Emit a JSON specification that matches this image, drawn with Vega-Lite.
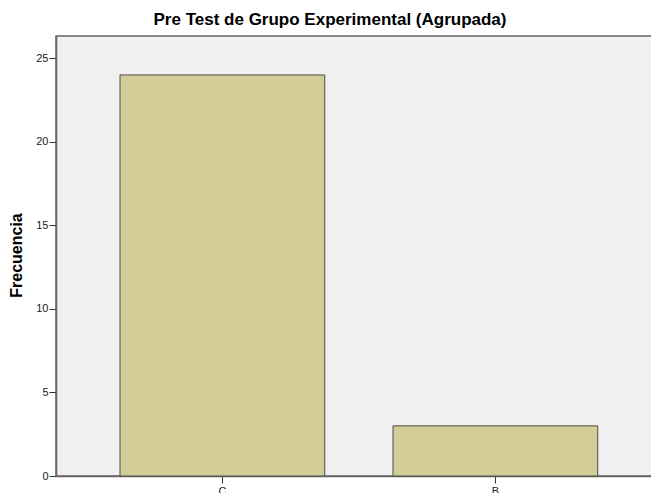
{
  "$schema": "https://vega.github.io/schema/vega-lite/v6.json",
  "autosize": "none",
  "padding": {"left": 56, "top": 36, "right": 0, "bottom": 17},
  "width": 600,
  "height": 440,
  "background": "white",
  "title": {
    "text": "Pre Test de Grupo Experimental (Agrupada)",
    "font": "Liberation Sans",
    "fontSize": 17,
    "fontWeight": "bold",
    "color": "#000000",
    "anchor": "middle",
    "baseline": "alphabetic",
    "offset": -6,
    "dx": -26
  },
  "data": {
    "values": [
      {"grupo": "C", "frecuencia": 24},
      {"grupo": "B", "frecuencia": 3}
    ]
  },
  "mark": {"type": "bar", "color": "#d3ce98", "stroke": "#4d4d4d", "strokeWidth": 1},
  "encoding": {
    "x": {
      "field": "grupo",
      "type": "nominal",
      "sort": ["C", "B"],
      "scale": {"paddingInner": 0.25, "paddingOuter": 0.2239, "align": 0.5235},
      "axis": {
        "title": null,
        "labelAngle": 0,
        "labelFont": "Liberation Sans",
        "labelFontSize": 11,
        "labelColor": "#222222",
        "labelPadding": 2,
        "tickSize": 7,
        "tickColor": "#333333",
        "domainColor": "#666666",
        "domainWidth": 1.5
      }
    },
    "y": {
      "field": "frecuencia",
      "type": "quantitative",
      "scale": {"domain": [0, 26.33], "nice": false, "zero": true},
      "axis": {
        "title": "Frecuencia",
        "titleFont": "Liberation Sans",
        "titleFontSize": 16,
        "titleFontWeight": "bold",
        "titleColor": "#000000",
        "titleAngle": 270,
        "titleBaseline": "middle",
        "titleAlign": "center",
        "titleX": -40,
        "titleY": 219,
        "values": [0, 5, 10, 15, 20, 25],
        "grid": false,
        "labelFont": "Liberation Sans",
        "labelFontSize": 11,
        "labelColor": "#222222",
        "labelPadding": 1,
        "tickSize": 7,
        "tickColor": "#333333",
        "domainColor": "#666666",
        "domainWidth": 1.5
      }
    }
  },
  "config": {
    "view": {"fill": "#f0f0f0", "stroke": "#666666", "strokeWidth": 1.5}
  }
}
